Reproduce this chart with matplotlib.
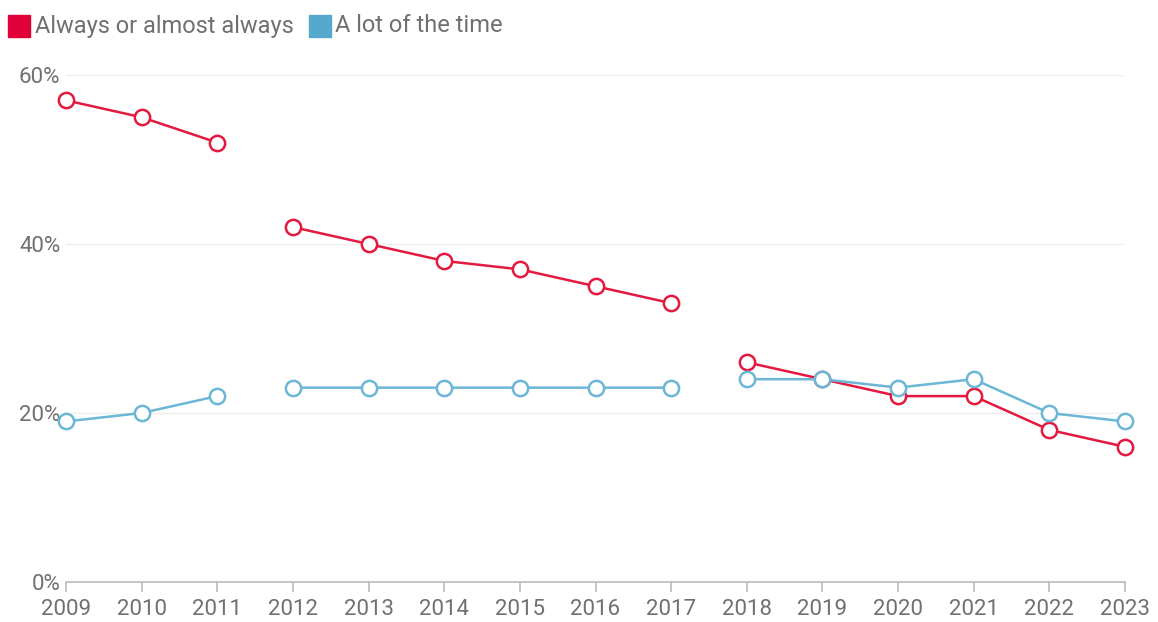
import numpy as np
import matplotlib.pyplot as plt
from matplotlib.patches import Rectangle

years = list(range(2009, 2024))
# None marks the breaks in the series
always = [57, 55, 52, None, 42, 40, 38, 37, 35, 33, None, 26, 24, 22, 22, 18, 16]
lot_time = [19, 20, 22, None, 23, 23, 23, 23, 23, 23, None, 24, 24, 23, 24, 20, 19]
# x positions matching the series above (segments split by None)
xs = [2009, 2010, 2011, None, 2012, 2013, 2014, 2015, 2016, 2017, None,
      2018, 2019, 2020, 2021, 2022, 2023]
yticks = [0, 20, 40, 60]

red = '#e31940'
blue = '#6cb6d6'
txt = '#707070'

plt.rcParams['font.family'] = ['Roboto', 'DejaVu Sans']

fig = plt.figure(figsize=(11.58, 6.22), dpi=100)
ax = fig.add_axes([66 / 1158, 1 - 582 / 622, (1125 - 66) / 1158, (582 - 75) / 622])

x = np.array([np.nan if v is None else v for v in xs], dtype=float)
a = np.array([np.nan if v is None else v for v in always], dtype=float)
b = np.array([np.nan if v is None else v for v in lot_time], dtype=float)

ax.plot(x, a, color=red, lw=1.8, marker='o', ms=11, mfc='white', mec=red, mew=1.8,
        zorder=3, clip_on=False)
ax.plot(x, b, color=blue, lw=1.8, marker='o', ms=11, mfc='white', mec=blue, mew=1.8,
        zorder=4, clip_on=False)

ax.set_xlim(2009, 2023)
ax.set_ylim(0, 60)
ax.set_xticks(years)
ax.set_yticks(yticks)
ax.set_yticklabels([f'{v}%' for v in yticks])
for s in ['top', 'right', 'left']:
    ax.spines[s].set_visible(False)
ax.spines['bottom'].set_color('#bbbbbb')
ax.spines['bottom'].set_linewidth(1.2)
ax.tick_params(axis='x', length=7, width=1.2, color='#bbbbbb', labelsize=16,
               labelcolor=txt, pad=5)
ax.tick_params(axis='y', length=0, labelsize=16, labelcolor=txt, pad=4)
ax.grid(axis='y', color='#eeeeee', lw=1)
ax.set_axisbelow(True)
ax.patch.set_visible(False)

# legend at top left
fig.patches.append(Rectangle((8 / 1158, 1 - 37 / 622), 22 / 1158, 22 / 622,
                             transform=fig.transFigure, color='#e0003a'))
fig.text(35 / 1158, 1 - 26 / 622, 'Always or almost always', fontsize=17,
         color=txt, va='center')
fig.patches.append(Rectangle((309 / 1158, 1 - 37 / 622), 22 / 1158, 22 / 622,
                             transform=fig.transFigure, color='#55a9cf'))
fig.text(335 / 1158, 1 - 26 / 622, 'A lot of the time', fontsize=17,
         color=txt, va='center')

fig.savefig('out.png', dpi=100)
